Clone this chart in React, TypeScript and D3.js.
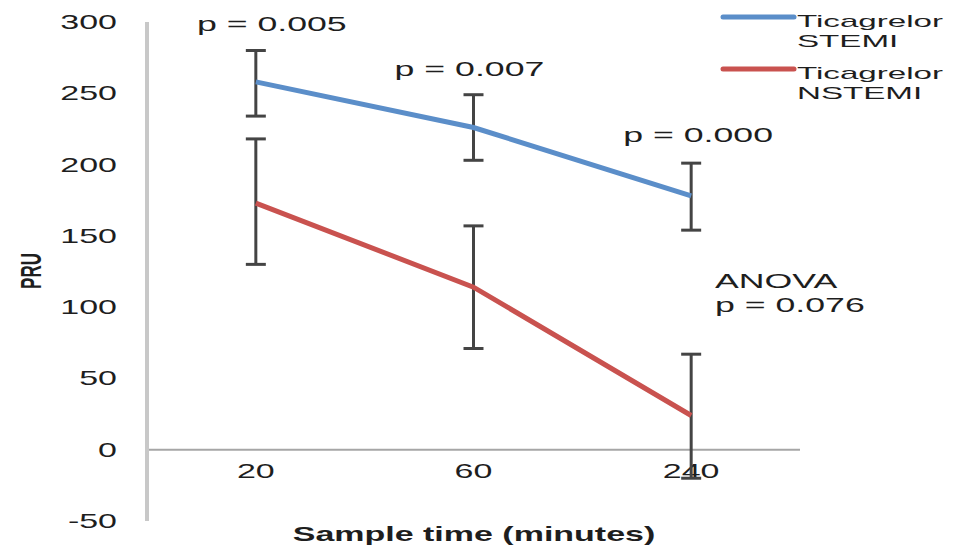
import React from 'react';
import { scaleBand, scaleLinear, line } from 'd3';

// sample times (minutes)
const categories = ['20', '60', '240'];
const yTicks = [-50, 0, 50, 100, 150, 200, 250, 300];

const stemiMean = [258, 226, 178];
const stemiLow = [234, 203, 154];
const stemiHigh = [280, 249, 201];

const nstemiMean = [173, 114, 24];
const nstemiLow = [130, 71, -20];
const nstemiHigh = [218, 157, 67];

const pLabels = ['p = 0.005', 'p = 0.007', 'p = 0.000'];

const STRETCH = 1.7; // the picture is stretched sideways
const FONT = 'Arial, "Liberation Sans", sans-serif';

function Txt({ x, y, size, anchor = 'start', bold = false, rotate = 0, sx = STRETCH, children }: any) {
    return (
        <text
            transform={`translate(${x},${y}) scale(${sx},1)${rotate ? ` rotate(${rotate})` : ''}`}
            fontSize={size}
            fontFamily={FONT}
            fontWeight={bold ? 'bold' : 'normal'}
            textAnchor={anchor}
            fill="#1e1e1e"
        >
            {children}
        </text>
    );
}

export default function App() {
    const width = 957;
    const height = 552;
    const axisLeft = 147;
    const axisRight = 800;

    const xScale = scaleBand().domain(categories).range([axisLeft, axisRight]).paddingInner(0).paddingOuter(0);
    const cx = (c: string) => (xScale(c) as number) + xScale.bandwidth() / 2;
    const yScale = scaleLinear().domain([-50, 300]).range([521, 22]);

    const path = line<number>()
        .x((_, i) => cx(categories[i]))
        .y(d => yScale(d));

    const series = [
        { name: 'STEMI', mean: stemiMean, low: stemiLow, high: stemiHigh, color: '#5b8ec9' },
        { name: 'NSTEMI', mean: nstemiMean, low: nstemiLow, high: nstemiHigh, color: '#c9524f' },
    ];

    // p label placement relative to each time point
    const pOffsetX = [16, -4, 7];
    const pBaseline = [31, 76, 142];

    return (
        <svg width={width} height={height} style={{ position: 'absolute', left: 0, top: 0, background: '#fff' }}>
            {/* axes */}
            <line x1={axisLeft} x2={axisRight} y1={yScale(0)} y2={yScale(0)} stroke="#a6a6a6" strokeWidth={2} />
            <line x1={axisLeft} x2={axisLeft} y1={yScale(300)} y2={yScale(-50)} stroke="#c8c8c8" strokeWidth={4} />

            {yTicks.map(t => (
                <Txt key={t} x={117} y={yScale(t) + 7} size={20} anchor="end">{t}</Txt>
            ))}
            {categories.map(c => (
                <Txt key={c} x={cx(c)} y={478} size={20} anchor="middle">{c}</Txt>
            ))}

            {/* error bars */}
            {series.map(s => categories.map((c, i) => (
                <g key={s.name + c} stroke="#444" strokeWidth={3}>
                    <line x1={cx(c)} x2={cx(c)} y1={yScale(s.high[i])} y2={yScale(s.low[i])} />
                    <line x1={cx(c) - 10} x2={cx(c) + 10} y1={yScale(s.high[i])} y2={yScale(s.high[i])} />
                    <line x1={cx(c) - 10} x2={cx(c) + 10} y1={yScale(s.low[i])} y2={yScale(s.low[i])} />
                </g>
            )))}

            {/* lines */}
            {series.map(s => (
                <path key={s.name} d={path(s.mean) || ''} fill="none" stroke={s.color} strokeWidth={5} />
            ))}

            {/* p values */}
            {categories.map((c, i) => (
                <Txt key={'p' + c} x={cx(c) + pOffsetX[i]} y={pBaseline[i]} size={21} anchor="middle">{pLabels[i]}</Txt>
            ))}
            <Txt x={715} y={288} size={21}>ANOVA</Txt>
            <Txt x={715} y={312} size={21}>p = 0.076</Txt>

            {/* axis titles */}
            <Txt x={41} y={271} size={17} bold rotate={-90} anchor="middle">PRU</Txt>
            <Txt x={474} y={541} size={20} bold anchor="middle">Sample time (minutes)</Txt>

            {/* legend */}
            {series.map((s, i) => (
                <g key={'lg' + s.name}>
                    <line x1={723} x2={794} y1={17 + i * 52} y2={17 + i * 52} stroke={s.color} strokeWidth={5} strokeLinecap="round" />
                    <Txt x={797} y={27 + i * 52} size={17} sx={1.95}>Ticagrelor</Txt>
                    <Txt x={797} y={47 + i * 52} size={17} sx={1.95}>{s.name}</Txt>
                </g>
            ))}
        </svg>
    );
}
